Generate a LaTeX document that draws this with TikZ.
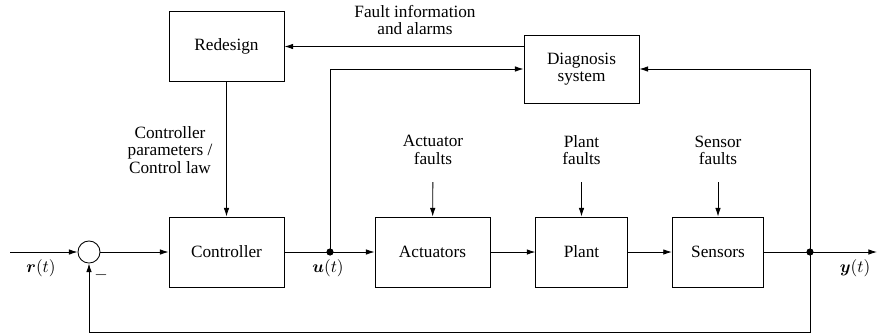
\documentclass[tikz,border=0pt]{standalone}
\usepackage{amsmath}
\usepackage{fontspec}
\setmainfont{Liberation Serif}
\newfontfamily\labelfont{Liberation Serif}
\usepackage{tikz}
\usetikzlibrary{arrows.meta,positioning,calc}

\begin{document}
\begin{tikzpicture}[x=0.58pt,y=-0.58pt,line width=0.5pt,>={Latex[length=5pt,width=3.2pt]},
  blockbox/.style={draw,minimum width=66.7pt,minimum height=40.6pt,inner sep=1pt,font=\labelfont\fontsize{10pt}{10pt}\selectfont,align=center},
  smallbox/.style={blockbox,minimum width=53pt},
  txtlabel/.style={inner sep=1pt,font=\labelfont\fontsize{10pt}{10pt}\selectfont,align=center},
  junction/.style={shape=circle,fill=black,draw=none,inner sep=0pt,minimum size=4pt}]
  \useasboundingbox (0,0) rectangle (877,334);
  % blocks
  \node[blockbox] (redes) at (226.5,46.5) {Redesign};
  \node[blockbox,minimum height=39.4pt] (diag) at (581.5,69) {Diagnosis\\system};
  \node[blockbox] (ctrl) at (226.5,252) {Controller};
  \node[blockbox] (act) at (432.5,252) {Actuators};
  \node[smallbox] (plant) at (581.5,252) {Plant};
  \node[smallbox] (sens) at (718,252) {Sensors};
  \node[draw,circle,minimum size=12.8pt,inner sep=0pt] (sum) at (89,252) {};
  \node[junction] (ujunc) at (330,252) {};
  \node[junction] (yjunc) at (810,252) {};
  \coordinate (rin) at (10,252);
  \coordinate (yout) at (877,252);
  \coordinate (fb) at (810,332);
  % labels
  \node[txtlabel] (rlab) at (41,268) {$\boldsymbol{r}(t)$};
  \node[txtlabel] (minus) at (101,275) {$-$};
  \node[txtlabel] (ulab) at (328,268) {$\boldsymbol{u}(t)$};
  \node[txtlabel] (ylab) at (855,268) {$\boldsymbol{y}(t)$};
  \node[txtlabel] (faultinfo) at (415,20) {Fault information\\and alarms};
  \node[txtlabel] (ctrlpar) at (170,150) {Controller\\parameters /\\Control law};
  \node[txtlabel] (actf) at (433,150) {Actuator\\faults};
  \node[txtlabel] (plantf) at (581.5,150) {Plant\\faults};
  \node[txtlabel] (sensf) at (718,150) {Sensor\\faults};
  % main loop
  \draw[->] (rin) -- (sum);
  \draw[->] (sum) -- (ctrl);
  \draw (ctrl) -- (ujunc.center);
  \draw[->] (ujunc.center) -- (act);
  \draw[->] (act) -- (plant);
  \draw[->] (plant) -- (sens);
  \draw (sens) -- (yjunc.center);
  \draw[->] (yjunc.center) -- (yout);
  \draw[->] (yjunc.center) -- (fb) -| (sum);
  % diagnosis and redesign
  \draw[->] (ujunc.center) |- (diag.west);
  \draw[->] (yjunc.center) |- (diag.east);
  \draw[->] (diag.west |- redes.east) -- (redes.east);
  \draw[->] (redes) -- (ctrl);
  % faults
  \draw[->,shorten <=9pt] (actf) -- (act);
  \draw[->,shorten <=9pt] (plantf) -- (plant);
  \draw[->,shorten <=9pt] (sensf) -- (sens);
  % redraw dots on top
  \fill (ujunc) circle (2pt);
  \fill (yjunc) circle (2pt);
\end{tikzpicture}
\end{document}
